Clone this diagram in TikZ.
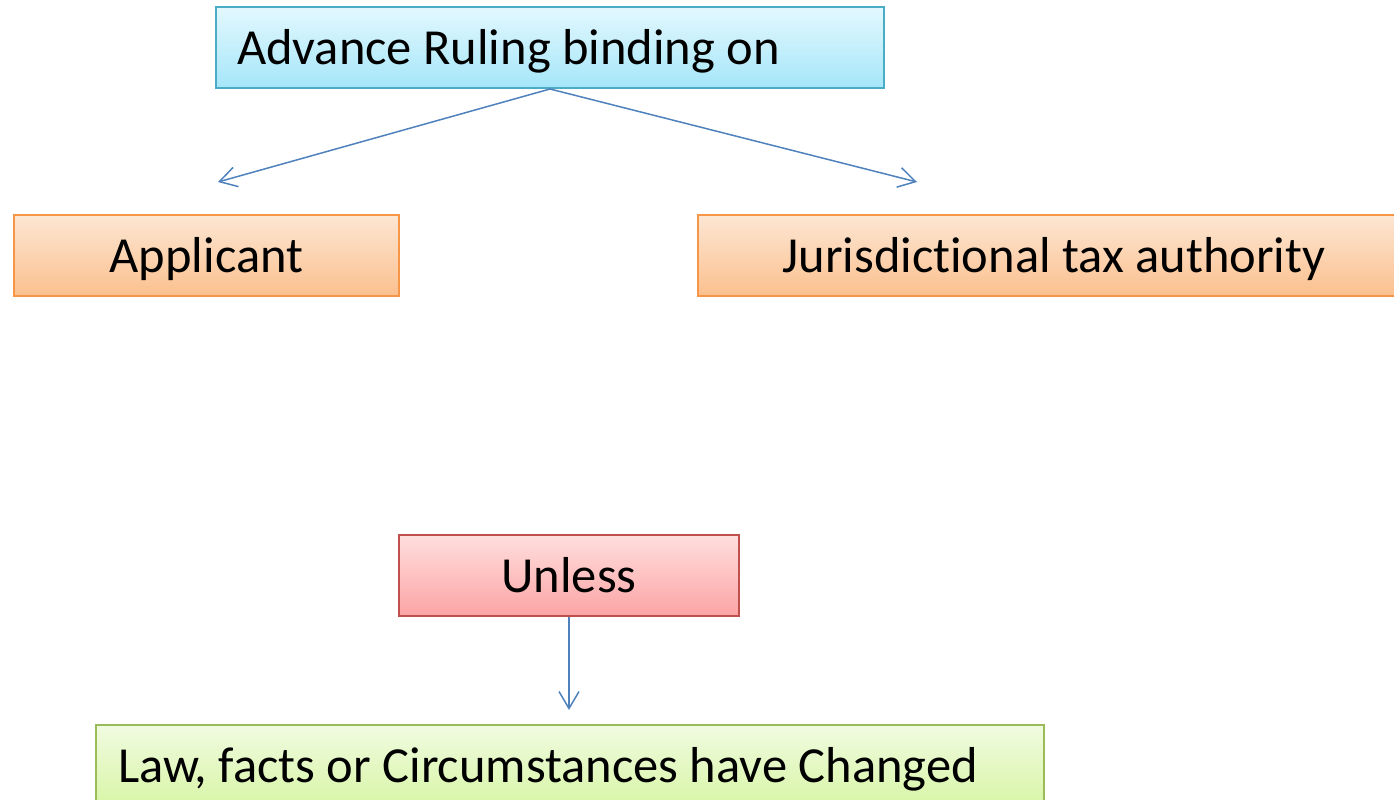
\documentclass[tikz,border=0pt]{standalone}
\usepackage{fontspec}
\setmainfont{Carlito}[Ligatures=NoCommon]
\usetikzlibrary{arrows.meta}

\definecolor{blueTop}{HTML}{E3F8FE}
\definecolor{blueBot}{HTML}{A5E6F9}
\definecolor{blueLine}{HTML}{4BACC6}
\definecolor{orTop}{HTML}{FDE6D3}
\definecolor{orBot}{HTML}{FBC08E}
\definecolor{orLine}{HTML}{F79646}
\definecolor{redTop}{HTML}{FFDEDE}
\definecolor{redBot}{HTML}{FCA4A4}
\definecolor{redLine}{HTML}{C0504D}
\definecolor{grTop}{HTML}{F0FBE0}
\definecolor{grBot}{HTML}{D8F5A6}
\definecolor{grLine}{HTML}{9BBB59}
\definecolor{linkBlue}{HTML}{4F81BD}

\tikzset{
  box/.style={draw, line width=2pt, rectangle, minimum height=81pt,
    inner ysep=0pt, text height=40pt, text depth=7pt,
    font=\fontsize{50.5}{60}\selectfont},
  bluebox/.style={box, draw=blueLine, top color=blueTop, bottom color=blueBot},
  orangebox/.style={box, draw=orLine, top color=orTop, bottom color=orBot},
  redbox/.style={box, draw=redLine, top color=redTop, bottom color=redBot},
  greenbox/.style={box, draw=grLine, top color=grTop, bottom color=grBot},
  link/.style={draw=linkBlue, line width=1.5pt,
    -{Straight Barb[length=17pt, width=20pt, line width=1.5pt]}}
}

\begin{document}
\begin{tikzpicture}[x=1pt, y=-1pt]
  \useasboundingbox (0,0) rectangle (1394,800);
  \clip (0,0) rectangle (1394,800);

  % header
  \node[bluebox, inner xsep=21pt] (head) at (550,47.5)
    {\makebox[626pt][l]{Advance Ruling binding on}};

  % the two parties bound by the ruling
  \node[orangebox, minimum width=385pt] (appl) at (206.5,255.5) {Applicant};
  \node[orangebox, minimum width=712pt] (juris) at (1054,255.5) {Jurisdictional tax authority};

  % exception
  \node[redbox, minimum width=340pt] (unless) at (569,575.5) {Unless};
  \node[greenbox, inner xsep=22pt] (change) at (570,765.5)
    {\makebox[904pt][l]{Law, facts or Circumstances have Changed}};

  % free arrow ends
  \coordinate (tipA) at (218,182);
  \coordinate (tipJ) at (917,182);
  \coordinate (tipC) at (569,710);

  \draw[link] (head.south) -- (tipA);
  \draw[link] (head.south) -- (tipJ);
  \draw[link] (unless.south) -- (tipC);
\end{tikzpicture}
\end{document}
